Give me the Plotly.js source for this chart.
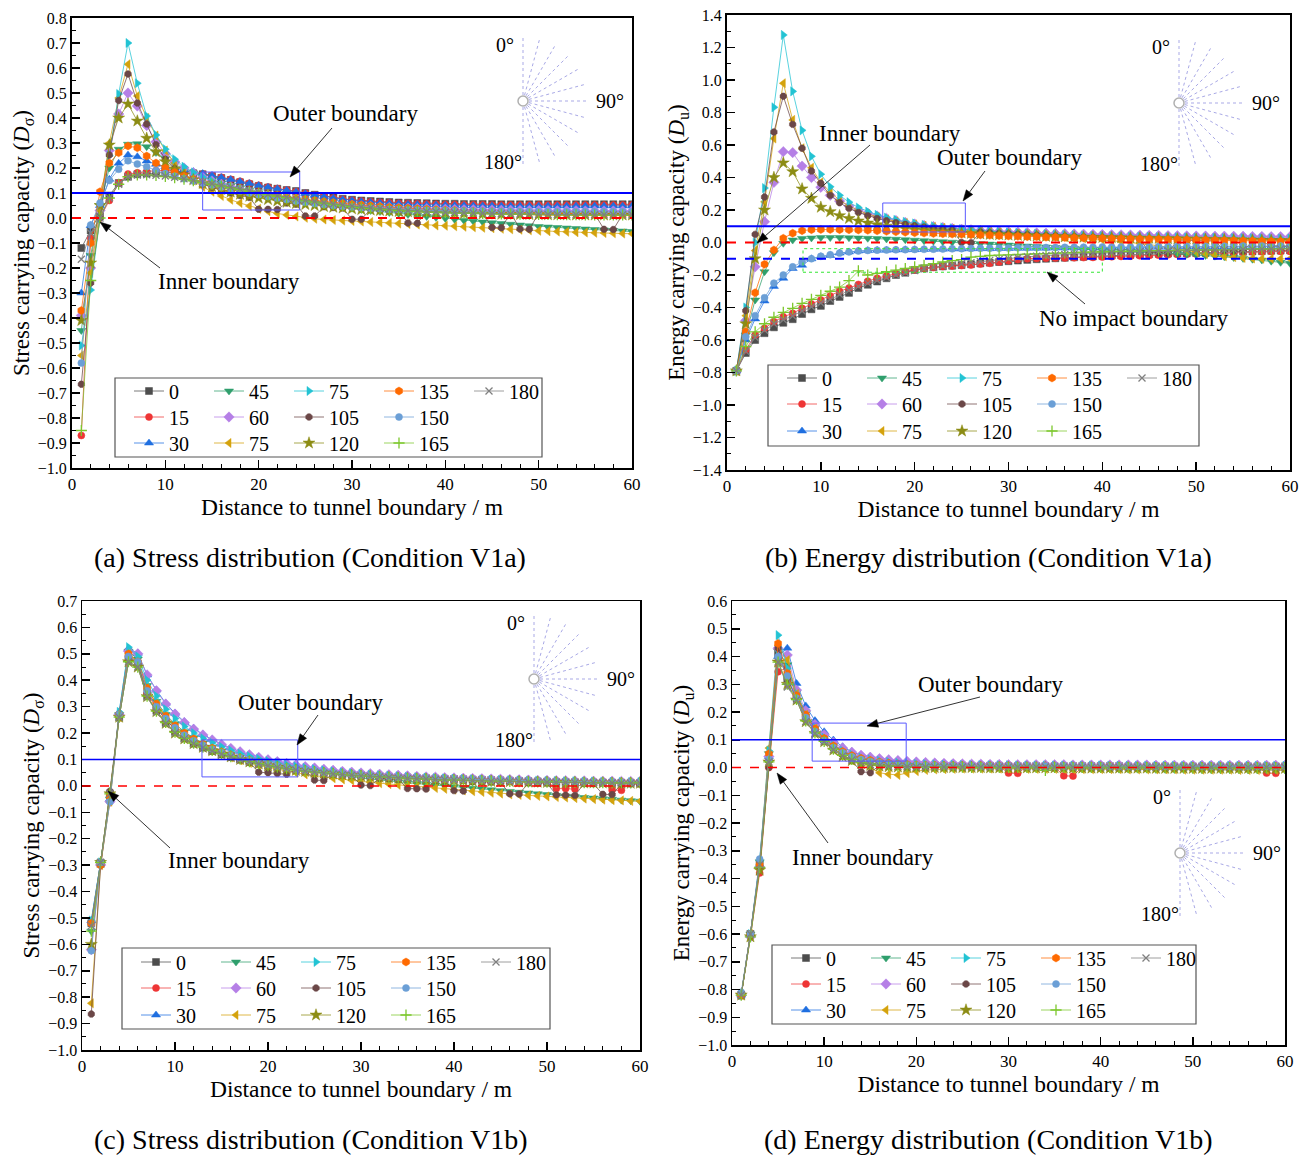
<!DOCTYPE html>
<html><head><meta charset="utf-8">
<script src="https://cdn.plot.ly/plotly-3.0.1.min.js"></script>
<style>html,body{margin:0;padding:0;background:#fff}</style>
</head><body><div id="chart" style="width:1311px;height:1156px"></div>
<script>
// ---------------- DATA ----------------
const DIST = [1,2,3,4,5,6,7,8,9,10,11,12,13,14,15,16,17,18,19,20,21,22,23,24,25,26,27,28,29,30,
31,32,33,34,35,36,37,38,39,40,41,42,43,44,45,46,47,48,49,50,51,52,53,54,55,56,57,58,59,60];
const LABELS = ['0','15','30','45','60','75','75','105','120','135','150','165','180'];

// (a) Stress, V1a
const a0=[-0.12,-0.05,0.02,0.09,0.14,0.165,0.175,0.178,0.18,0.182,0.183,0.182,0.179,0.175,0.168,0.16,0.152,0.143,0.135,0.128,0.122,0.117,0.112,0.108,0.1,0.093,0.087,0.082,0.077,0.073,0.07,0.068,0.066,0.064,0.062,0.061,0.06,0.059,0.058,0.057,0.057,0.056,0.056,0.056,0.056,0.055,0.055,0.055,0.055,0.055,0.055,0.055,0.055,0.055,0.055,0.055,0.055,0.055,0.055,0.055];
const a15=[-0.87,-0.08,0.0,0.07,0.14,0.176,0.181,0.185,0.19,0.19,0.188,0.185,0.181,0.176,0.17,0.163,0.155,0.147,0.139,0.131,0.124,0.118,0.112,0.106,0.099,0.092,0.086,0.08,0.075,0.071,0.068,0.065,0.063,0.061,0.059,0.058,0.057,0.056,0.055,0.054,0.054,0.053,0.053,0.053,0.052,0.052,0.052,0.052,0.052,0.052,0.052,0.052,0.052,0.052,0.052,0.052,0.052,0.052,0.052,0.052];
const a30=[-0.3,-0.03,0.05,0.155,0.219,0.252,0.245,0.228,0.215,0.205,0.198,0.192,0.186,0.178,0.17,0.162,0.154,0.146,0.138,0.13,0.123,0.117,0.111,0.105,0.098,0.091,0.085,0.079,0.074,0.07,0.066,0.063,0.061,0.059,0.057,0.055,0.054,0.053,0.052,0.051,0.05,0.05,0.049,0.049,0.049,0.048,0.048,0.048,0.048,0.048,0.048,0.048,0.048,0.048,0.048,0.048,0.048,0.048,0.048,0.048];
const a45=[-0.45,-0.15,0.05,0.2,0.275,0.295,0.297,0.285,0.262,0.238,0.215,0.196,0.18,0.165,0.152,0.14,0.129,0.119,0.11,0.101,0.093,0.086,0.079,0.073,0.067,0.061,0.055,0.05,0.044,0.039,0.034,0.03,0.026,0.022,0.018,0.014,0.01,0.006,0.002,-0.002,-0.006,-0.01,-0.013,-0.016,-0.019,-0.022,-0.025,-0.028,-0.031,-0.034,-0.036,-0.038,-0.04,-0.042,-0.044,-0.046,-0.048,-0.05,-0.052,-0.054];
const a60=[-0.39,-0.2,0.03,0.27,0.416,0.5,0.448,0.37,0.305,0.258,0.225,0.2,0.18,0.163,0.148,0.135,0.124,0.114,0.105,0.097,0.09,0.084,0.078,0.073,0.068,0.064,0.06,0.056,0.053,0.05,0.048,0.046,0.044,0.042,0.04,0.039,0.038,0.037,0.036,0.035,0.034,0.033,0.033,0.032,0.032,0.031,0.031,0.03,0.03,0.03,0.029,0.029,0.029,0.029,0.028,0.028,0.028,0.028,0.028,0.028];
const a75=[-0.55,-0.22,0.03,0.3,0.48,0.615,0.488,0.4,0.33,0.27,0.22,0.18,0.15,0.125,0.105,0.088,0.073,0.06,0.048,0.037,0.027,0.018,0.012,0.006,0.001,-0.003,-0.006,-0.008,-0.01,-0.012,-0.014,-0.016,-0.018,-0.02,-0.022,-0.024,-0.026,-0.028,-0.03,-0.031,-0.033,-0.035,-0.037,-0.039,-0.041,-0.043,-0.045,-0.047,-0.049,-0.051,-0.053,-0.054,-0.055,-0.057,-0.058,-0.059,-0.06,-0.061,-0.062,-0.063];
const a90=[-0.51,-0.288,0.0,0.25,0.496,0.7,0.539,0.408,0.332,0.275,0.235,0.205,0.182,0.163,0.147,0.133,0.121,0.111,0.102,0.094,0.087,0.081,0.075,0.07,0.065,0.06,0.056,0.052,0.048,0.045,0.042,0.039,0.037,0.035,0.033,0.031,0.03,0.029,0.028,0.027,0.026,0.025,0.024,0.024,0.023,0.023,0.022,0.022,0.021,0.021,0.021,0.02,0.02,0.02,0.02,0.02,0.019,0.019,0.019,0.019];
const a105=[-0.665,-0.26,0.0,0.252,0.47,0.576,0.46,0.376,0.293,0.235,0.198,0.172,0.152,0.136,0.122,0.11,0.1,0.09,0.082,0.035,0.035,0.034,0.06,0.055,0.008,0.008,0.045,0.042,0.04,-0.005,-0.005,0.035,0.033,0.031,0.03,-0.02,-0.021,0.027,0.026,0.025,0.024,0.023,0.022,0.021,-0.038,-0.039,0.02,-0.044,-0.045,0.019,0.018,0.018,0.017,0.017,0.016,0.016,-0.045,-0.046,0.015,0.015];
const a120=[-0.41,-0.18,0.05,0.292,0.4,0.456,0.388,0.319,0.265,0.225,0.195,0.172,0.153,0.138,0.125,0.114,0.104,0.095,0.087,0.08,0.074,0.068,0.063,0.058,0.054,0.05,0.046,0.043,0.04,0.037,0.034,0.032,0.03,0.028,0.026,0.025,0.023,0.022,0.021,0.02,0.019,0.018,0.017,0.016,0.016,0.015,0.015,0.014,0.014,0.013,0.013,0.013,0.012,0.012,0.012,0.012,0.012,0.012,0.012,0.012];
const a135=[-0.37,-0.1,0.105,0.22,0.261,0.288,0.281,0.248,0.22,0.2,0.183,0.168,0.155,0.143,0.132,0.123,0.115,0.108,0.101,0.095,0.09,0.086,0.082,0.078,0.074,0.07,0.066,0.062,0.058,0.055,0.052,0.049,0.046,0.043,0.041,0.039,0.037,0.035,0.033,0.031,0.03,0.028,0.027,0.026,0.025,0.024,0.023,0.022,0.021,0.02,0.019,0.018,0.018,0.017,0.016,0.016,0.015,0.015,0.014,0.014];
const a150=[-0.58,-0.028,0.06,0.15,0.195,0.229,0.216,0.205,0.19,0.178,0.167,0.157,0.148,0.14,0.132,0.124,0.116,0.108,0.1,0.093,0.086,0.08,0.074,0.068,0.063,0.058,0.054,0.05,0.047,0.044,0.041,0.039,0.037,0.035,0.034,0.033,0.032,0.031,0.03,0.029,0.028,0.028,0.027,0.027,0.026,0.026,0.026,0.025,0.025,0.025,0.025,0.024,0.024,0.024,0.024,0.024,0.024,0.024,0.024,0.024];
const a165=[-0.85,-0.25,0.0,0.08,0.135,0.165,0.172,0.172,0.17,0.166,0.161,0.155,0.149,0.142,0.135,0.128,0.121,0.114,0.107,0.1,0.093,0.087,0.081,0.075,0.069,0.064,0.059,0.054,0.05,0.046,0.042,0.039,0.036,0.033,0.031,0.029,0.027,0.025,0.024,0.022,0.021,0.02,0.019,0.018,0.017,0.016,0.016,0.015,0.015,0.014,0.014,0.013,0.013,0.013,0.012,0.012,0.012,0.012,0.012,0.012];
const a180=[-0.165,-0.06,0.0,0.08,0.135,0.165,0.172,0.173,0.171,0.168,0.163,0.157,0.151,0.144,0.137,0.13,0.123,0.116,0.109,0.102,0.095,0.089,0.083,0.077,0.071,0.066,0.061,0.056,0.052,0.048,0.044,0.041,0.038,0.035,0.032,0.03,0.028,0.026,0.025,0.023,0.022,0.021,0.02,0.019,0.018,0.017,0.016,0.016,0.015,0.015,0.014,0.014,0.014,0.013,0.013,0.013,0.013,0.013,0.013,0.013];

// (b) Energy, V1a
const b0=[-0.79,-0.68,-0.6,-0.558,-0.522,-0.494,-0.472,-0.44,-0.411,-0.39,-0.36,-0.335,-0.31,-0.28,-0.26,-0.24,-0.22,-0.2,-0.186,-0.169,-0.159,-0.152,-0.147,-0.143,-0.139,-0.134,-0.129,-0.124,-0.12,-0.115,-0.111,-0.107,-0.103,-0.1,-0.097,-0.094,-0.091,-0.088,-0.085,-0.082,-0.08,-0.078,-0.076,-0.074,-0.072,-0.07,-0.068,-0.067,-0.066,-0.065,-0.064,-0.062,-0.06,-0.058,-0.057,-0.055,-0.053,-0.051,-0.05,-0.048];
const b15=[-0.79,-0.66,-0.57,-0.528,-0.487,-0.457,-0.436,-0.405,-0.378,-0.354,-0.329,-0.3,-0.28,-0.258,-0.238,-0.22,-0.205,-0.19,-0.178,-0.168,-0.16,-0.153,-0.148,-0.145,-0.142,-0.138,-0.133,-0.128,-0.12,-0.112,-0.105,-0.1,-0.098,-0.097,-0.096,-0.095,-0.094,-0.093,-0.092,-0.09,-0.088,-0.086,-0.084,-0.082,-0.08,-0.078,-0.076,-0.074,-0.072,-0.07,-0.068,-0.066,-0.064,-0.062,-0.06,-0.058,-0.057,-0.056,-0.055,-0.055];
const b30=[-0.79,-0.6,-0.47,-0.36,-0.27,-0.22,-0.16,-0.14,-0.1,-0.087,-0.08,-0.065,-0.058,-0.052,-0.05,-0.048,-0.047,-0.046,-0.045,-0.044,-0.043,-0.042,-0.041,-0.04,-0.04,-0.039,-0.038,-0.038,-0.037,-0.037,-0.036,-0.036,-0.035,-0.035,-0.034,-0.034,-0.033,-0.033,-0.032,-0.032,-0.031,-0.031,-0.03,-0.03,-0.03,-0.029,-0.029,-0.029,-0.028,-0.028,-0.028,-0.027,-0.027,-0.027,-0.026,-0.026,-0.026,-0.025,-0.025,-0.025];
const b45=[-0.79,-0.57,-0.354,-0.18,-0.063,-0.005,0.015,0.025,0.028,0.03,0.03,0.03,0.029,0.028,0.026,0.024,0.022,0.02,0.017,0.014,0.011,0.008,0.005,0.002,-0.001,-0.004,-0.007,-0.01,-0.013,-0.016,-0.019,-0.022,-0.025,-0.028,-0.031,-0.034,-0.037,-0.04,-0.043,-0.046,-0.049,-0.052,-0.055,-0.058,-0.061,-0.064,-0.067,-0.07,-0.073,-0.076,-0.08,-0.084,-0.088,-0.093,-0.098,-0.103,-0.108,-0.115,-0.122,-0.128];
const b60=[-0.79,-0.48,-0.15,0.128,0.37,0.559,0.553,0.47,0.4,0.34,0.29,0.255,0.225,0.2,0.18,0.163,0.148,0.135,0.124,0.114,0.105,0.098,0.092,0.087,0.082,0.078,0.074,0.071,0.068,0.065,0.063,0.061,0.059,0.057,0.055,0.054,0.052,0.051,0.05,0.049,0.048,0.047,0.046,0.045,0.044,0.043,0.042,0.042,0.041,0.04,0.04,0.039,0.039,0.038,0.038,0.037,0.037,0.036,0.036,0.035];
const b75=[-0.79,-0.45,-0.05,0.25,0.64,0.98,0.754,0.58,0.46,0.37,0.31,0.26,0.225,0.197,0.175,0.157,0.142,0.13,0.12,0.111,0.103,0.096,0.09,0.084,0.079,0.074,0.07,0.066,0.062,0.058,0.054,0.05,0.046,0.042,0.038,0.034,0.03,0.026,0.022,0.018,0.012,0.006,0.0,-0.006,-0.012,-0.02,-0.03,-0.04,-0.05,-0.06,-0.07,-0.078,-0.085,-0.09,-0.095,-0.098,-0.1,-0.1,-0.1,-0.1];
const b90=[-0.79,-0.4,0.0,0.335,0.832,1.277,0.93,0.69,0.53,0.42,0.343,0.29,0.248,0.215,0.19,0.17,0.153,0.139,0.127,0.117,0.108,0.1,0.093,0.087,0.082,0.077,0.073,0.069,0.065,0.062,0.059,0.056,0.053,0.051,0.049,0.047,0.045,0.043,0.041,0.04,0.039,0.037,0.036,0.035,0.034,0.033,0.032,0.031,0.03,0.029,0.029,0.028,0.027,0.027,0.026,0.026,0.025,0.025,0.024,0.024];
const b105=[-0.79,-0.42,0.05,0.28,0.68,0.9,0.727,0.58,0.44,0.364,0.29,0.245,0.21,0.185,0.165,0.148,0.134,0.122,0.112,0.103,0.095,0.088,0.082,0.077,0.0,-0.002,0.064,0.06,0.057,0.054,0.051,0.048,0.045,0.042,0.04,0.037,0.035,0.033,0.031,0.029,0.027,0.025,0.023,0.021,-0.06,-0.062,-0.064,0.015,0.013,0.011,0.01,0.009,-0.05,-0.052,-0.054,0.006,0.005,-0.02,-0.022,-0.024];
const b120=[-0.79,-0.5,-0.1,0.2,0.4,0.49,0.436,0.33,0.272,0.217,0.19,0.165,0.148,0.133,0.12,0.11,0.101,0.093,0.086,0.08,0.075,0.07,0.066,0.062,0.059,0.056,0.053,0.05,0.048,0.046,0.044,0.042,0.04,0.038,0.037,0.035,0.034,0.033,0.032,0.031,0.03,0.029,0.028,0.027,0.026,0.025,0.024,0.023,0.022,0.021,0.02,0.019,0.018,0.017,0.016,0.015,0.014,0.013,0.012,0.011];
const b135=[-0.79,-0.549,-0.309,-0.134,-0.046,0.026,0.057,0.073,0.079,0.08,0.08,0.079,0.078,0.077,0.075,0.072,0.069,0.066,0.063,0.06,0.058,0.056,0.054,0.052,0.05,0.048,0.046,0.044,0.042,0.04,0.038,0.036,0.035,0.033,0.032,0.03,0.029,0.028,0.027,0.026,0.025,0.024,0.023,0.022,0.021,0.02,0.019,0.018,0.017,0.016,0.015,0.014,0.013,0.012,0.011,0.01,0.009,0.008,0.007,0.006];
const b150=[-0.79,-0.58,-0.45,-0.34,-0.25,-0.2,-0.15,-0.12,-0.1,-0.085,-0.075,-0.065,-0.058,-0.052,-0.049,-0.047,-0.046,-0.045,-0.044,-0.043,-0.042,-0.041,-0.04,-0.039,-0.038,-0.037,-0.036,-0.035,-0.035,-0.034,-0.033,-0.033,-0.032,-0.031,-0.031,-0.03,-0.03,-0.029,-0.029,-0.028,-0.028,-0.027,-0.027,-0.026,-0.026,-0.025,-0.025,-0.025,-0.024,-0.024,-0.024,-0.023,-0.023,-0.023,-0.022,-0.022,-0.022,-0.021,-0.021,-0.021];
const b165=[-0.79,-0.64,-0.55,-0.5,-0.46,-0.43,-0.405,-0.375,-0.35,-0.325,-0.3,-0.275,-0.235,-0.175,-0.2,-0.19,-0.18,-0.17,-0.16,-0.15,-0.14,-0.13,-0.12,-0.112,-0.105,-0.09,-0.085,-0.08,-0.078,-0.076,-0.074,-0.072,-0.07,-0.068,-0.066,-0.064,-0.062,-0.06,-0.058,-0.057,-0.056,-0.055,-0.054,-0.053,-0.052,-0.051,-0.05,-0.049,-0.048,-0.047,-0.046,-0.045,-0.044,-0.043,-0.042,-0.041,-0.04,-0.039,-0.038,-0.037];
const b180=[-0.79,-0.67,-0.585,-0.54,-0.5,-0.475,-0.452,-0.422,-0.395,-0.372,-0.35,-0.32,-0.295,-0.27,-0.25,-0.232,-0.215,-0.2,-0.186,-0.173,-0.162,-0.153,-0.145,-0.138,-0.131,-0.124,-0.117,-0.11,-0.104,-0.098,-0.093,-0.088,-0.084,-0.08,-0.077,-0.074,-0.071,-0.069,-0.067,-0.065,-0.063,-0.061,-0.059,-0.057,-0.055,-0.053,-0.051,-0.05,-0.049,-0.048,-0.047,-0.046,-0.045,-0.044,-0.043,-0.042,-0.041,-0.04,-0.039,-0.038];

// (c) Stress, V1b
const c0=[-0.52,-0.29,-0.03,0.26,0.48,0.46,0.34,0.285,0.24,0.205,0.18,0.16,0.145,0.132,0.12,0.11,0.1,0.092,0.085,0.078,0.072,0.067,0.062,0.058,0.054,0.051,0.048,0.045,0.043,0.041,0.039,0.037,0.035,0.033,0.032,0.03,0.029,0.028,0.027,0.026,0.025,0.024,0.023,0.022,0.021,0.02,0.019,0.018,0.017,0.016,0.015,0.015,0.014,0.014,0.013,0.013,0.012,0.012,0.012,0.011];
const c15=[-0.52,-0.29,-0.04,0.27,0.49,0.47,0.35,0.295,0.25,0.215,0.19,0.17,0.154,0.14,0.128,0.117,0.107,0.098,0.09,0.083,0.077,0.071,0.066,0.061,0.057,0.053,0.05,0.047,0.044,0.042,0.04,0.038,0.036,0.034,0.033,0.031,0.03,0.029,0.028,0.027,0.026,0.025,0.024,0.023,0.022,0.021,0.02,0.019,0.018,0.017,-0.01,-0.01,-0.012,0.015,0.015,0.014,-0.016,-0.017,0.013,0.013];
const c30=[-0.51,-0.29,-0.05,0.28,0.52,0.502,0.42,0.363,0.313,0.275,0.243,0.218,0.195,0.175,0.158,0.143,0.13,0.119,0.109,0.1,0.093,0.086,0.08,0.074,0.069,0.064,0.06,0.056,0.053,0.05,0.047,0.045,0.043,0.041,0.039,0.037,0.035,0.034,0.032,0.031,0.03,0.029,0.028,0.027,0.026,0.025,0.024,0.023,0.022,0.021,0.021,0.02,0.02,0.019,0.019,0.018,0.018,0.017,0.017,0.016];
const c45=[-0.55,-0.29,-0.05,0.27,0.51,0.48,0.38,0.32,0.27,0.235,0.205,0.182,0.162,0.146,0.132,0.12,0.109,0.1,0.091,0.084,0.077,0.07,0.064,0.058,0.053,0.048,0.043,0.038,0.034,0.03,0.026,0.022,0.018,0.015,0.012,0.009,0.006,0.003,0.0,-0.003,-0.006,-0.009,-0.012,-0.015,-0.018,-0.021,-0.024,-0.027,-0.03,-0.033,-0.036,-0.039,-0.041,-0.044,-0.046,-0.049,-0.051,-0.054,-0.056,-0.058];
const c60=[-0.62,-0.3,-0.06,0.27,0.51,0.5,0.42,0.36,0.31,0.272,0.24,0.215,0.193,0.174,0.157,0.142,0.129,0.118,0.108,0.099,0.092,0.085,0.079,0.073,0.068,0.063,0.059,0.055,0.052,0.049,0.046,0.044,0.042,0.04,0.038,0.036,0.034,0.033,0.031,0.03,0.029,0.028,0.027,0.026,0.025,0.024,0.023,0.022,0.021,0.021,0.02,0.02,0.019,0.019,0.018,0.018,0.018,0.017,0.017,0.017];
const c75=[-0.823,-0.3,-0.06,0.26,0.5,0.47,0.37,0.31,0.262,0.225,0.196,0.173,0.153,0.136,0.121,0.108,0.097,0.087,0.078,0.07,0.063,0.056,0.05,0.044,0.039,0.034,0.029,0.025,0.021,0.017,0.013,0.01,0.007,0.004,0.001,-0.002,-0.005,-0.008,-0.011,-0.014,-0.017,-0.02,-0.023,-0.026,-0.029,-0.032,-0.034,-0.036,-0.038,-0.04,-0.042,-0.044,-0.046,-0.048,-0.05,-0.052,-0.054,-0.055,-0.057,-0.058];
const c90=[-0.51,-0.29,-0.05,0.28,0.525,0.49,0.4,0.34,0.29,0.255,0.225,0.2,0.18,0.163,0.148,0.134,0.122,0.112,0.102,0.094,0.087,0.08,0.074,0.068,0.063,0.059,0.055,0.051,0.048,0.045,0.042,0.04,0.038,0.036,0.034,0.032,0.031,0.029,0.028,0.027,0.026,0.025,0.024,0.023,0.022,0.021,0.02,0.019,0.019,0.018,0.018,0.017,0.017,0.016,0.016,0.015,0.015,0.015,0.014,0.014];
const c105=[-0.864,-0.3,-0.02,0.27,0.49,0.46,0.36,0.3,0.25,0.215,0.188,0.166,0.148,0.133,0.12,0.108,0.098,0.089,0.052,0.05,0.047,0.044,0.062,0.058,0.022,0.02,0.046,0.042,0.039,0.003,0.001,0.029,0.027,0.025,-0.01,-0.011,-0.012,0.02,0.019,-0.018,-0.019,0.016,0.015,0.014,0.013,-0.03,-0.031,0.011,0.011,0.01,-0.034,-0.035,-0.036,0.009,0.008,-0.032,-0.033,0.007,0.007,0.006];
const c120=[-0.6,-0.29,-0.03,0.26,0.47,0.45,0.338,0.281,0.237,0.2,0.178,0.16,0.146,0.133,0.121,0.11,0.1,0.091,0.083,0.076,0.07,0.064,0.059,0.055,0.051,0.048,0.045,0.042,0.039,0.037,0.035,0.033,0.031,0.029,0.027,0.026,0.025,0.023,0.022,0.021,0.02,0.019,0.018,0.017,0.016,0.016,0.015,0.014,0.014,0.013,0.013,0.012,0.012,0.011,0.011,0.011,0.01,0.01,0.01,0.01];
const c135=[-0.52,-0.3,-0.04,0.27,0.5,0.47,0.37,0.31,0.265,0.228,0.2,0.178,0.159,0.143,0.129,0.117,0.106,0.097,0.089,0.082,0.075,0.069,0.064,0.059,0.055,0.051,0.048,0.045,0.042,0.04,0.038,0.036,0.034,0.032,0.031,0.029,0.028,0.027,0.026,0.025,0.024,0.023,0.022,0.021,0.02,0.019,0.019,0.018,0.018,0.017,0.017,0.016,0.016,0.015,0.015,0.015,0.014,0.014,0.014,0.013];
const c150=[-0.624,-0.29,-0.06,0.27,0.49,0.47,0.36,0.3,0.255,0.22,0.192,0.171,0.154,0.139,0.126,0.115,0.105,0.096,0.088,0.081,0.075,0.069,0.064,0.06,0.056,0.052,0.049,0.046,0.043,0.041,0.039,0.037,0.035,0.033,0.032,0.03,0.029,0.028,0.027,0.026,0.025,0.024,0.023,0.022,0.021,0.02,0.02,0.019,0.018,0.018,0.017,0.017,0.016,0.016,0.015,0.015,0.015,0.014,0.014,0.014];
const c165=[-0.55,-0.29,-0.03,0.26,0.47,0.45,0.34,0.283,0.24,0.203,0.18,0.162,0.147,0.134,0.122,0.111,0.101,0.092,0.084,0.077,0.071,0.065,0.06,0.056,0.052,0.049,0.046,0.043,0.04,0.038,0.036,0.034,0.032,0.03,0.028,0.027,0.026,0.024,0.023,0.022,0.021,0.02,0.019,0.018,0.017,0.017,0.016,0.015,0.015,0.014,0.014,0.013,0.013,0.012,0.012,0.012,0.011,0.011,0.011,0.011];
const c180=[-0.53,-0.29,-0.03,0.26,0.47,0.45,0.336,0.28,0.236,0.2,0.178,0.16,0.145,0.132,0.12,0.11,0.1,0.091,0.083,0.076,0.07,0.065,0.06,0.056,0.052,0.048,0.045,0.042,0.04,0.038,0.036,0.034,0.032,0.03,0.028,0.027,0.026,0.024,0.023,0.022,0.021,0.02,0.019,0.018,0.017,0.016,0.016,0.015,0.014,0.014,0.013,0.013,0.012,0.012,0.012,0.011,0.011,0.011,0.01,0.01];

// (d) Energy, V1b
const d0=[-0.82,-0.6,-0.35,0.03,0.41,0.32,0.25,0.18,0.135,0.1,0.075,0.056,0.042,0.032,0.025,0.019,0.015,0.012,0.01,0.009,0.008,0.008,0.007,0.007,0.007,0.006,0.006,0.006,0.006,0.005,0.005,0.005,0.005,0.005,0.005,0.005,0.005,0.005,0.005,0.005,0.005,0.005,0.004,0.004,0.004,0.004,0.004,0.004,0.004,0.004,0.004,0.004,0.004,0.004,0.004,0.004,0.004,0.004,0.004,0.004];
const d15=[-0.82,-0.61,-0.38,0.0,0.345,0.36,0.26,0.185,0.14,0.105,0.078,0.058,0.043,0.032,0.024,0.018,0.014,0.011,0.009,0.008,0.007,0.007,0.006,0.006,0.005,0.005,0.005,0.004,0.004,-0.02,-0.021,0.004,0.004,0.003,0.003,-0.03,-0.031,0.003,0.003,0.003,0.003,0.003,0.003,0.003,0.003,0.003,0.003,0.003,0.003,0.003,0.002,0.002,0.002,0.002,0.002,0.002,0.002,-0.02,-0.021,0.002];
const d30=[-0.82,-0.6,-0.35,0.04,0.4,0.43,0.303,0.222,0.169,0.129,0.099,0.075,0.057,0.045,0.039,0.033,0.029,0.026,0.023,0.021,0.019,0.017,0.016,0.015,0.014,0.013,0.012,0.012,0.011,0.011,0.01,0.01,0.01,0.01,0.009,0.009,0.009,0.009,0.009,0.009,0.008,0.008,0.008,0.008,0.008,0.008,0.008,0.008,0.008,0.008,0.008,0.008,0.008,0.008,0.008,0.008,0.008,0.008,0.008,0.008];
const d45=[-0.82,-0.6,-0.34,0.05,0.42,0.37,0.27,0.195,0.145,0.108,0.08,0.059,0.044,0.033,0.025,0.019,0.014,0.011,0.008,0.006,0.005,0.004,0.003,0.002,0.001,0.0,0.0,-0.001,-0.001,-0.002,-0.002,-0.003,-0.003,-0.003,-0.004,-0.004,-0.004,-0.005,-0.005,-0.005,-0.005,-0.006,-0.006,-0.006,-0.006,-0.007,-0.007,-0.007,-0.007,-0.007,-0.008,-0.008,-0.008,-0.008,-0.008,-0.009,-0.009,-0.009,-0.009,-0.009];
const d60=[-0.82,-0.61,-0.36,0.04,0.43,0.405,0.279,0.205,0.155,0.118,0.09,0.07,0.055,0.044,0.037,0.032,0.028,0.025,0.022,0.02,0.018,0.016,0.015,0.014,0.013,0.012,0.012,0.011,0.011,0.01,0.01,0.01,0.01,0.01,0.01,0.01,0.009,0.009,0.009,0.009,0.009,0.009,0.009,0.009,0.009,0.008,0.008,0.008,0.008,0.008,0.008,0.008,0.008,0.008,0.008,0.008,0.008,0.008,0.008,0.008];
const d75=[-0.82,-0.6,-0.35,0.07,0.44,0.387,0.265,0.19,0.14,0.1,0.07,0.045,0.027,0.012,0.0,-0.019,-0.024,-0.027,-0.02,-0.013,-0.009,-0.007,-0.006,-0.005,-0.004,-0.004,-0.004,-0.004,-0.004,-0.004,-0.004,-0.005,-0.005,-0.005,-0.005,-0.005,-0.006,-0.006,-0.006,-0.006,-0.006,-0.006,-0.007,-0.007,-0.007,-0.007,-0.007,-0.007,-0.008,-0.008,-0.008,-0.008,-0.008,-0.008,-0.009,-0.009,-0.009,-0.009,-0.009,-0.009];
const d90=[-0.82,-0.6,-0.34,0.06,0.477,0.357,0.265,0.19,0.142,0.107,0.08,0.06,0.046,0.036,0.029,0.024,0.02,0.017,0.015,0.013,0.012,0.011,0.01,0.01,0.009,0.009,0.008,0.008,0.008,0.008,0.007,0.007,0.007,0.007,0.007,0.007,0.007,0.007,0.007,0.007,0.006,0.006,0.006,0.006,0.006,0.006,0.006,0.006,0.006,0.006,0.006,0.006,0.006,0.006,0.006,0.006,0.006,0.006,0.006,0.006];
const d105=[-0.82,-0.6,-0.36,0.0,0.43,0.32,0.25,0.18,0.13,0.095,0.068,0.045,0.025,-0.015,-0.019,0.008,0.007,0.006,0.005,0.005,0.004,0.004,0.004,0.004,0.004,0.003,0.003,0.003,0.003,0.003,0.003,0.003,0.002,0.002,0.002,0.002,0.002,0.002,0.002,0.002,0.002,0.001,0.001,0.001,0.001,0.001,0.001,0.001,0.001,0.001,0.0,0.0,0.0,0.0,0.0,0.0,0.0,0.0,0.0,0.0];
const d120=[-0.82,-0.61,-0.37,0.02,0.38,0.3,0.243,0.165,0.123,0.093,0.063,0.04,0.025,0.014,0.008,0.005,0.003,0.002,0.001,0.001,0.0,0.0,0.0,0.0,0.0,0.0,0.0,-0.001,-0.001,-0.001,-0.001,-0.001,-0.001,-0.001,-0.001,-0.002,-0.002,-0.002,-0.002,-0.002,-0.002,-0.002,-0.002,-0.002,-0.002,-0.003,-0.003,-0.003,-0.003,-0.003,-0.003,-0.003,-0.003,-0.003,-0.003,-0.003,-0.003,-0.003,-0.003,-0.003];
const d135=[-0.82,-0.6,-0.35,0.05,0.447,0.34,0.26,0.19,0.14,0.105,0.078,0.058,0.043,0.033,0.026,0.02,0.016,0.013,0.011,0.009,0.008,0.008,0.007,0.007,0.007,0.006,0.006,0.006,0.006,0.006,0.005,0.005,0.005,0.005,0.005,0.005,0.005,0.005,0.005,0.005,0.005,0.004,0.004,0.004,0.004,0.004,0.004,0.004,0.004,0.004,0.004,0.004,0.004,0.004,0.004,0.004,0.004,0.004,0.004,0.004];
const d150=[-0.81,-0.6,-0.33,0.03,0.4,0.33,0.25,0.18,0.13,0.097,0.072,0.053,0.039,0.029,0.022,0.017,0.013,0.011,0.009,0.008,0.007,0.007,0.006,0.006,0.006,0.006,0.005,0.005,0.005,0.005,0.005,0.005,0.005,0.005,0.005,0.005,0.005,0.005,0.005,0.005,0.004,0.004,0.004,0.004,0.004,0.004,0.004,0.004,0.004,0.004,0.004,0.004,0.004,0.004,0.004,0.004,0.004,0.004,0.004,0.004];
const d165=[-0.82,-0.61,-0.36,0.02,0.38,0.3,0.245,0.168,0.125,0.094,0.066,0.044,0.029,0.018,0.012,0.008,0.006,0.004,0.003,0.002,0.002,0.001,0.001,0.001,0.001,0.0,0.0,0.0,0.0,0.0,0.0,0.0,0.0,-0.01,0.0,0.0,0.0,0.0,0.0,0.0,0.0,0.0,0.0,0.0,0.0,0.0,0.0,0.0,0.0,-0.001,-0.001,-0.001,-0.001,-0.001,-0.001,-0.001,-0.001,-0.001,-0.001,-0.001];
const d180=[-0.82,-0.6,-0.35,0.02,0.38,0.29,0.243,0.165,0.123,0.093,0.064,0.042,0.027,0.017,0.011,0.007,0.005,0.004,0.003,0.002,0.002,0.002,0.002,0.002,0.002,0.002,0.002,0.002,0.002,0.002,0.002,0.002,0.002,0.002,0.002,0.002,0.001,0.001,0.001,0.001,0.001,0.001,0.001,0.001,0.001,0.001,0.001,0.001,0.001,0.001,0.001,0.001,0.001,0.001,0.001,0.001,0.001,0.001,0.001,0.001];

const PANEL_DATA = [
  [a0,a15,a30,a45,a60,a75,a90,a105,a120,a135,a150,a165,a180],
  [b0,b15,b30,b45,b60,b75,b90,b105,b120,b135,b150,b165,b180],
  [c0,c15,c30,c45,c60,c75,c90,c105,c120,c135,c150,c165,c180],
  [d0,d15,d30,d45,d60,d75,d90,d105,d120,d135,d150,d165,d180]
];

// ---------------- STYLE / LAYOUT ----------------
const W = 1311, H = 1156;
const PX = p => p / W, PY = p => 1 - p / H;
const FONT = 'Liberation Serif, Times New Roman, serif';

const STYLE = [
  {s:'square', c:'#4d4d4d', z:7},
  {s:'circle', c:'#ee3535', z:7},
  {s:'triangle-up', c:'#1f6fe0', z:8},
  {s:'triangle-down', c:'#2f9f6c', z:8},
  {s:'diamond', c:'#b57fe6', z:8},
  {s:'triangle-left', c:'#d4a20c', z:8},
  {s:'triangle-right', c:'#22c3d3', z:8},
  {s:'octagon', c:'#6b4747', z:7},
  {s:'star', c:'#8c8c14', z:9},
  {s:'hexagon', c:'#ff6a00', z:8},
  {s:'circle', c:'#6b9fd6', z:7},
  {s:'cross-thin', c:'#7cc72c', z:8, thin:true},
  {s:'x-thin', c:'#7f7f7f', z:7, thin:true}
];

const PANELS = [
  {xa:'x',  ya:'y',  xd:[72,632],  yd:[18,468],  yr:[-1.0,0.8], dt:0.1, md:0.05, lw:2,
   ytitle:'Stress carrying capacity (<i>D</i><sub>σ</sub>)', legBox:[115,378,542,457], rows:[391,417,443],
   comp:[523,101]},
  {xa:'x2', ya:'y2', xd:[727,1290], yd:[15,470],  yr:[-1.4,1.4], dt:0.2, md:0.1, lw:2,
   ytitle:'Energy carrying capacity (<i>D</i><sub>u</sub>)', legBox:[768,365,1199,446], rows:[378,404,431],
   comp:[1179,103]},
  {xa:'x3', ya:'y3', xd:[82,640],   yd:[601,1050], yr:[-1.0,0.7], dt:0.1, md:0.05, lw:1.5,
   ytitle:'Stress carrying capacity (<i>D</i><sub>σ</sub>)', legBox:[122,948,550,1029], rows:[962,988,1015],
   comp:[534,679]},
  {xa:'x4', ya:'y4', xd:[732,1285], yd:[601,1045], yr:[-1.0,0.6], dt:0.1, md:0.05, lw:1.5,
   ytitle:'Energy carrying capacity (<i>D</i><sub>u</sub>)', legBox:[772,945,1196,1024], rows:[958,984,1010],
   comp:[1180,853]}
];
const COL_OFFSETS = [54, 134, 214, 304, 394];

function hexA(hex, a){
  const n = parseInt(hex.slice(1),16);
  return `rgba(${(n>>16)&255},${(n>>8)&255},${n&255},${a})`;
}

const traces = [];
const layout = {
  width: W, height: H, margin:{l:0,r:0,t:0,b:0},
  paper_bgcolor:'#fff', plot_bgcolor:'#fff',
  font:{family:FONT, color:'#000', size:16},
  showlegend:true, shapes:[], annotations:[]
};

PANELS.forEach((P, p) => {
  const xk = P.xa === 'x' ? 'xaxis' : 'xaxis' + P.xa.slice(1);
  const yk = P.ya === 'y' ? 'yaxis' : 'yaxis' + P.ya.slice(1);
  layout[xk] = {
    domain:[PX(P.xd[0]), PX(P.xd[1])], anchor:P.ya, range:[0,60], dtick:10, tick0:0,
    showline:true, mirror:true, linecolor:'#000', linewidth:P.lw,
    ticks:'inside', ticklen:8, tickwidth:1.5, tickcolor:'#000',
    minor:{ticks:'inside', ticklen:4, dtick:2, tickcolor:'#000', tickwidth:1},
    showgrid:false, zeroline:false, tickfont:{family:FONT, size:17, color:'#000'},
    title:{text:'Distance to tunnel boundary / m', font:{family:FONT, size:23.5, color:'#000'}, standoff:1}
  };
  layout[yk] = {
    domain:[PY(P.yd[1]), PY(P.yd[0])], anchor:P.xa, range:P.yr, dtick:P.dt, tick0:0,
    tickformat:'.1f',
    showline:true, mirror:true, linecolor:'#000', linewidth:P.lw,
    ticks:'inside', ticklen:8, tickwidth:1.5, tickcolor:'#000',
    minor:{ticks:'inside', ticklen:4, dtick:P.md, tickcolor:'#000', tickwidth:1},
    showgrid:false, zeroline:false, tickfont:{family:FONT, size:16, color:'#000'},
    title:{text:P.ytitle, font:{family:FONT, size:23, color:'#000'}, standoff:2}
  };

  // legend frame
  layout.shapes.push({type:'rect', xref:'paper', yref:'paper', layer:'below',
    x0:PX(P.legBox[0]), x1:PX(P.legBox[2]), y0:PY(P.legBox[3]), y1:PY(P.legBox[1]),
    line:{color:'#555', width:1.2}, fillcolor:'#fff'});

  PANEL_DATA[p].forEach((ys, i) => {
    const st = STYLE[i];
    const col = Math.floor(i/3), row = i % 3;
    const idx = p*13 + i + 1;
    const key = idx === 1 ? 'legend' : 'legend' + idx;
    layout[key] = {
      x: PX(P.legBox[0] + COL_OFFSETS[col] - 40), y: PY(P.rows[row]),
      xanchor:'left', yanchor:'middle', orientation:'v',
      bgcolor:'rgba(0,0,0,0)', borderwidth:0, tracegroupgap:0,
      font:{family:FONT, size:20, color:'#000'}
    };
    traces.push({
      type:'scatter', mode:'lines+markers',
      x: DIST.slice(0, ys.length), y: ys,
      xaxis:P.xa, yaxis:P.ya, name: LABELS[i], legend: key,
      line:{color:hexA(st.c, 0.75), width:1},
      marker:{symbol:st.s, size:st.z, color:st.c,
        line: st.thin ? {color:st.c, width:1.3} : {color:st.c, width:0.5}}
    });
  });

  // compass decoration
  const [cx, cy] = P.comp, R = 66;
  for (let k = 0; k <= 12; k++) {
    const th = k * 15 * Math.PI / 180;
    layout.shapes.push({type:'line', xref:'paper', yref:'paper', layer:'above',
      x0:PX(cx + 6*Math.sin(th)), y0:PY(cy - 6*Math.cos(th)),
      x1:PX(cx + R*Math.sin(th)), y1:PY(cy - R*Math.cos(th)),
      line:{color:'#a9a9e6', width:1, dash:'dot'}});
  }
  layout.shapes.push({type:'circle', xref:'paper', yref:'paper', layer:'above',
    x0:PX(cx-5), x1:PX(cx+5), y0:PY(cy+5), y1:PY(cy-5),
    line:{color:'#b0b0b0', width:1.5}, fillcolor:'#fff'});
  const lab = (t, x, y) => layout.annotations.push({xref:'paper', yref:'paper', x:PX(x), y:PY(y),
    text:t, showarrow:false, xanchor:'center', yanchor:'middle', font:{family:FONT, size:20, color:'#000'}});
  lab('0°', cx-18, cy-56); lab('90°', cx+87, cy); lab('180°', cx-20, cy+61);

  // reference lines
  const hl = (y, color, w, dash) => layout.shapes.push({type:'line', xref:P.xa, yref:P.ya,
    x0:0, x1:60, y0:y, y1:y, line:{color, width:w, dash}});
  hl(0.1, '#0000ff', p < 2 ? 2 : 1.5, 'solid');
  hl(0, '#ff0000', p < 2 ? 2 : 1.5, 'dash');
});
layout.shapes.push({type:'line', xref:'x2', yref:'y2', x0:0, x1:60, y0:-0.1, y1:-0.1,
  line:{color:'#0000ff', width:2, dash:'dash'}});

// boundary boxes
const box = (xa, ya, x0, x1, y0, y1, color, dash) => layout.shapes.push({type:'rect', xref:xa, yref:ya,
  x0, x1, y0, y1, line:{color, width:1, dash}, fillcolor:'rgba(0,0,0,0)'});
box('x','y', 14.0, 24.4, 0.032, 0.184, '#5a5aff', 'solid');
box('x2','y2', 16.6, 25.4, 0.065, 0.243, '#5a5aff', 'solid');
box('x2','y2', 8.1, 40.0, -0.183, -0.038, '#33e633', 'dot');
box('x3','y3', 12.9, 23.2, 0.034, 0.174, '#5a5aff', 'solid');
box('x4','y4', 8.7, 18.9, 0.023, 0.160, '#5a5aff', 'solid');

// text labels
const txt = (t, x, y, size) => layout.annotations.push({xref:'paper', yref:'paper', x:PX(x), y:PY(y),
  text:t, showarrow:false, xanchor:'center', yanchor:'middle', font:{family:FONT, size:size||23, color:'#000'}});
// arrows as shapes: shaft + filled head
const arrow = (tx, ty, hx, hy) => {
  const dx = hx - tx, dy = hy - ty, L = Math.hypot(dx, dy), ux = dx/L, uy = dy/L;
  const HL = 11, HW = 4;
  const bx = hx - ux*HL, by = hy - uy*HL;
  layout.shapes.push({type:'line', xref:'paper', yref:'paper', layer:'above',
    x0:PX(tx), y0:PY(ty), x1:PX(bx), y1:PY(by), line:{color:'#333', width:1}});
  const p1 = [bx - uy*HW, by + ux*HW], p2 = [bx + uy*HW, by - ux*HW];
  layout.shapes.push({type:'path', xref:'paper', yref:'paper', layer:'above',
    path:`M${PX(hx)},${PY(hy)} L${PX(p1[0])},${PY(p1[1])} L${PX(p2[0])},${PY(p2[1])} Z`,
    fillcolor:'#000', line:{color:'#000', width:0.5}});
};

txt('Outer boundary', 345, 113); arrow(332, 128, 290, 177);
txt('Inner boundary', 229, 282); arrow(160, 268, 100, 222);
txt('Inner boundary', 890, 133); arrow(870, 145, 757, 243);
txt('Outer boundary', 1009, 157); arrow(985, 171, 963, 201);
txt('No impact boundary', 1134, 318); arrow(1085, 304, 1047, 272);
txt('Outer boundary', 310, 702); arrow(318, 715, 297, 745);
txt('Inner boundary', 239, 860); arrow(170, 848, 108, 791);
txt('Outer boundary', 990, 684); arrow(980, 697, 867, 726);
txt('Inner boundary', 863, 857); arrow(828, 843, 777, 773);

// captions
txt('(a) Stress distribution (Condition V1a)', 310, 557, 28);
txt('(b) Energy distribution (Condition V1a)', 988, 557, 28);
txt('(c) Stress distribution (Condition V1b)', 310, 1139, 28);
txt('(d) Energy distribution (Condition V1b)', 988, 1139, 28);

Plotly.newPlot('chart', traces, layout, {staticPlot:true, displayModeBar:false});
</script></body></html>
